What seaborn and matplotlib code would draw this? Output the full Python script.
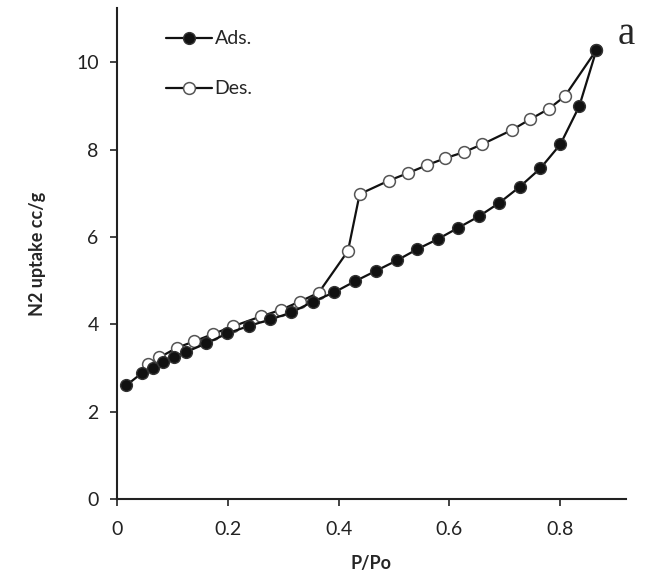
import matplotlib
matplotlib.use("Agg")
import matplotlib.pyplot as plt
import seaborn as sns
import pandas as pd

# Adsorption branch (filled circles)
ads_x = [0.017, 0.045, 0.065, 0.084, 0.104, 0.124, 0.161, 0.199, 0.238, 0.277, 0.315,
         0.354, 0.392, 0.429, 0.467, 0.505, 0.542, 0.579, 0.616, 0.653, 0.690, 0.727,
         0.764, 0.800, 0.834, 0.865]
ads_y = [2.60, 2.88, 3.00, 3.14, 3.26, 3.36, 3.56, 3.79, 3.96, 4.11, 4.27,
         4.52, 4.73, 4.98, 5.22, 5.46, 5.72, 5.95, 6.21, 6.47, 6.78, 7.15,
         7.57, 8.12, 8.99, 10.28]

# Desorption branch (open circles), starting from the top point
des_x = [0.865, 0.808, 0.779, 0.745, 0.713, 0.659, 0.626, 0.592, 0.559, 0.525, 0.491,
         0.438, 0.417, 0.364, 0.330, 0.296, 0.260, 0.209, 0.174, 0.140, 0.108, 0.077, 0.057]
des_y = [10.28, 9.22, 8.93, 8.69, 8.45, 8.12, 7.94, 7.80, 7.64, 7.46, 7.29,
         6.98, 5.68, 4.72, 4.52, 4.33, 4.18, 3.95, 3.78, 3.61, 3.46, 3.24, 3.08]

x_ticks = [0, 0.2, 0.4, 0.6, 0.8]
x_tick_labels = ["0", "0.2", "0.4", "0.6", "0.8"]
y_ticks = [0, 2, 4, 6, 8, 10]
y_tick_labels = ["0", "2", "4", "6", "8", "10"]

sns.set_style("ticks")
plt.rcParams["font.family"] = ["Lato", "DejaVu Sans"]

fig = plt.figure(figsize=(6.56, 5.79), dpi=100)
ax = fig.add_axes([0.178, 80 / 579, 0.776, 491 / 579])

des_df = pd.DataFrame({"x": des_x, "y": des_y})
ads_df = pd.DataFrame({"x": ads_x, "y": ads_y})

sns.lineplot(data=des_df, x="x", y="y", sort=False, ax=ax, color="#111111", lw=1.6,
             marker="o", markersize=8.5, markerfacecolor="white", markeredgecolor="#555555",
             markeredgewidth=1.1, label="Des.")
sns.lineplot(data=ads_df, x="x", y="y", sort=False, ax=ax, color="#111111", lw=1.6,
             marker="o", markersize=8.5, markerfacecolor="#111111", markeredgecolor="#333333",
             markeredgewidth=1.0, label="Ads.")

ax.set_xlim(0, 0.918)
ax.set_ylim(0, 11.24)
ax.set_xticks(x_ticks)
ax.set_xticklabels(x_tick_labels)
ax.set_yticks(y_ticks)
ax.set_yticklabels(y_tick_labels)
ax.tick_params(axis="both", labelsize=14, length=5, width=1.2, colors="#222222",
               direction="out")
ax.tick_params(axis="x", pad=11)
ax.tick_params(axis="y", pad=8)
for s in ["top", "right"]:
    ax.spines[s].set_visible(False)
for s in ["left", "bottom"]:
    ax.spines[s].set_linewidth(1.5)
    ax.spines[s].set_color("#222222")

ax.set_xlabel("P/Po", fontsize=13, fontweight="bold", labelpad=12)
ax.set_ylabel("N2 uptake cc/g", fontsize=13, fontweight="bold", labelpad=22)

handles, labels = ax.get_legend_handles_labels()
order = [labels.index("Ads."), labels.index("Des.")]
leg = ax.legend([handles[i] for i in order], [labels[i] for i in order],
                loc="upper left", bbox_to_anchor=(0.062, 0.99), frameon=False,
                fontsize=14, labelspacing=1.7, handlelength=2.4, handletextpad=0.1)

fig.text(626 / 656, 1 - 35 / 579, "a", fontsize=28, family="Liberation Serif",
         ha="center", va="center")

fig.savefig("out.png", dpi=100, facecolor="white")
